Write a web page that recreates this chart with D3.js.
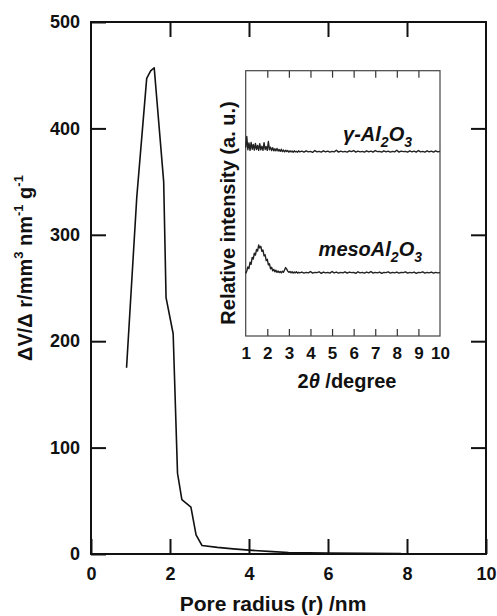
<!DOCTYPE html>
<html>
<head>
<meta charset="utf-8">
<script src="https://cdn.jsdelivr.net/npm/d3@7"></script>
<style>
  body { margin: 0; background: #fff; }
  svg { display: block; font-family: "Liberation Sans", Arial, sans-serif; }
</style>
</head>
<body>
<svg id="chart" width="497" height="616"></svg>
<script>
// ---- Main chart data: pore size distribution ----
const poreRadius = [0.9, 1.16, 1.41, 1.51, 1.60, 1.84, 1.90, 2.08, 2.19, 2.30, 2.53, 2.66, 2.81, 3.2, 3.6, 4.0, 4.6, 5.0, 6.0, 7.0, 7.85];
const dVdr = [175, 336, 447, 454, 457, 350, 241, 207, 76, 51, 44, 18, 8, 6.2, 4.8, 3.6, 2.2, 1.4, 0.9, 0.6, 0.5];
const xTicks = [0, 2, 4, 6, 8, 10];
const yTicks = [0, 100, 200, 300, 400, 500];

// ---- Inset data: low-angle XRD ----
const twoTheta = [
  1.00,1.05,1.10,1.15,1.20,1.25,1.30,1.35,1.40,1.45,1.50,1.55,1.60,1.65,1.70,1.75,1.80,1.85,1.90,1.95,
  2.00,2.05,2.10,2.15,2.20,2.25,2.30,2.35,2.40,2.45,2.50,2.55,2.60,2.65,2.70,2.75,2.80,2.85,2.90,2.95,
  3.00,3.05,3.10,3.15,3.20,3.25,3.30,3.35,3.40,3.45,3.50,
  3.6,3.7,3.8,3.9,4.0,4.1,4.2,4.3,4.4,4.5,
  4.6,4.7,4.8,4.9,5.0,5.1,5.2,5.3,5.4,5.5,
  5.6,5.7,5.8,5.9,6.0,6.1,6.2,6.3,6.4,6.5,
  6.6,6.7,6.8,6.9,7.0,7.1,7.2,7.3,7.4,7.5,
  7.6,7.7,7.8,7.9,8.0,8.1,8.2,8.3,8.4,8.5,
  8.6,8.7,8.8,8.9,9.0,9.1,9.2,9.3,9.4,9.5,
  9.6,9.7,9.8,9.9,10.0
];
const gammaIntensity = [
  71.0,75.2,70.2,72.8,70.0,73.0,70.4,72.2,70.1,72.6,70.3,71.8,70.0,72.5,70.2,71.5,70.0,72.9,70.3,71.4,
  70.0,73.3,70.2,71.2,69.9,71.0,69.8,70.6,69.8,70.7,69.7,70.3,69.6,70.4,69.5,70.1,69.4,70.0,69.5,69.9,
  69.3,69.8,69.4,69.7,69.3,69.8,69.4,69.6,69.3,69.8,69.4,
  69.7,69.3,69.8,69.4,69.6,69.2,69.9,69.4,69.6,69.3,
  69.8,69.4,69.7,69.3,69.6,69.4,70.0,69.3,69.7,69.4,
  69.6,69.3,69.8,69.5,69.9,69.3,69.7,69.4,69.6,69.3,
  69.8,69.4,69.7,69.3,69.9,69.5,69.6,69.3,69.8,69.4,
  69.7,69.3,69.6,69.4,70.0,69.3,69.7,69.5,69.6,69.3,
  69.8,69.4,69.7,69.3,69.9,69.4,69.6,69.3,69.8,69.4,
  69.7,69.3,69.8,69.4,69.6
];
const mesoIntensity = [
  23.6,24.5,26.0,25.4,27.8,27.0,29.6,29.0,31.2,30.5,32.6,32.0,34.3,33.2,33.8,31.9,32.4,30.2,30.6,28.4,
  28.9,26.8,27.2,25.3,25.9,24.6,25.1,24.2,24.8,24.0,24.5,23.9,24.3,23.8,24.4,24.0,24.9,25.8,25.2,24.4,
  24.0,24.3,23.8,24.2,23.7,24.1,23.8,24.2,23.7,24.0,23.8,
  24.1,23.7,24.0,23.8,24.3,23.7,24.0,23.9,24.2,23.6,
  24.1,23.8,24.0,23.7,24.3,23.8,24.1,23.7,24.0,23.8,
  24.2,23.7,24.1,23.9,24.0,23.6,24.2,23.8,24.0,23.7,
  24.1,23.8,24.3,23.7,24.0,23.8,24.1,23.6,24.0,23.9,
  24.2,23.7,24.0,23.8,24.1,23.7,24.0,23.9,24.2,23.7,
  24.0,23.8,24.1,23.6,24.0,23.9,24.2,23.7,24.0,23.8,
  24.1,23.7,24.0,23.8,23.9
];
const insetTicks = [1, 2, 3, 4, 5, 6, 7, 8, 9, 10];

const svg = d3.select("#chart");

// ---------- Main chart ----------
const x = d3.scaleLinear().domain([0, 10]).range([91, 486]);
const y = d3.scaleLinear().domain([0, 500]).range([554, 22]);

function styleAxis(g, fontSize) {
  g.select(".domain").remove();
  g.selectAll(".tick line").attr("stroke", "#111").attr("stroke-width", 2);
  g.selectAll(".tick text").attr("fill", "#111").attr("font-size", fontSize)
    .attr("font-weight", "bold").attr("font-family", "'Liberation Sans', Arial, sans-serif");
}

svg.append("g").attr("transform", "translate(0,554)")
  .call(d3.axisBottom(x).tickValues(xTicks).tickSize(-15).tickPadding(13).tickFormat(d3.format("d")))
  .call(g => styleAxis(g, 18));
svg.append("g").attr("transform", "translate(91,0)")
  .call(d3.axisLeft(y).tickValues(yTicks).tickSize(-15).tickPadding(11).tickFormat(d3.format("d")))
  .call(g => styleAxis(g, 18));
svg.append("g").attr("transform", "translate(0,22)")
  .call(d3.axisTop(x).tickValues(xTicks.slice(1, -1)).tickSize(-15).tickFormat(""))
  .call(g => styleAxis(g, 18));
svg.append("g").attr("transform", "translate(486,0)")
  .call(d3.axisRight(y).tickValues(yTicks.slice(1, -1)).tickSize(-15).tickFormat(""))
  .call(g => styleAxis(g, 18));

svg.append("rect")
  .attr("x", x(0)).attr("y", y(500))
  .attr("width", x(10) - x(0)).attr("height", y(0) - y(500))
  .attr("fill", "none").attr("stroke", "#111").attr("stroke-width", 2);

const mainLine = d3.line().x((d, i) => x(poreRadius[i])).y(d => y(d));
svg.append("path").datum(dVdr)
  .attr("d", mainLine)
  .attr("fill", "none").attr("stroke", "#111").attr("stroke-width", 1.6)
  .attr("stroke-linejoin", "round");

// axis titles
svg.append("text")
  .attr("x", 273).attr("y", 611)
  .attr("text-anchor", "middle").attr("font-size", 21).attr("font-weight", "bold").attr("fill", "#111")
  .text("Pore radius (r) /nm");

const yl = svg.append("text")
  .attr("transform", "translate(32,268) rotate(-90)")
  .attr("text-anchor", "middle").attr("font-size", 20).attr("font-weight", "bold").attr("fill", "#111");
yl.append("tspan").text("ΔV/Δ r/mm");
yl.append("tspan").attr("font-size", 13).attr("dy", -9).text("3");
yl.append("tspan").attr("dy", 9).text(" nm");
yl.append("tspan").attr("font-size", 13).attr("dy", -9).text("-1");
yl.append("tspan").attr("dy", 9).text(" g");
yl.append("tspan").attr("font-size", 13).attr("dy", -9).text("-1");

// ---------- Inset ----------
const x2 = d3.scaleLinear().domain([1, 10]).range([245.7, 440]);
const y2 = d3.scaleLinear().domain([0, 100]).range([336, 70.7]);

function styleInset(g) {
  g.select(".domain").remove();
  g.selectAll(".tick line").attr("stroke", "#333").attr("stroke-width", 1.2);
  g.selectAll(".tick text").attr("fill", "#111").attr("font-size", 17)
    .attr("font-weight", "bold").attr("font-family", "'Liberation Sans', Arial, sans-serif");
}

svg.append("g").attr("transform", "translate(0,336)")
  .call(d3.axisBottom(x2).tickValues(insetTicks).tickSize(-7).tickPadding(11).tickFormat(d3.format("d")))
  .call(styleInset)
  .call(g => g.selectAll(".tick line").filter(d => d === 1 || d === 10).remove());
svg.append("g").attr("transform", "translate(0,70.7)")
  .call(d3.axisTop(x2).tickValues(insetTicks.slice(1, -1)).tickSize(-7).tickFormat(""))
  .call(styleInset);

svg.append("rect")
  .attr("x", x2(1)).attr("y", y2(100))
  .attr("width", x2(10) - x2(1)).attr("height", y2(0) - y2(100))
  .attr("fill", "none").attr("stroke", "#444").attr("stroke-width", 1.2);

const insetLine = d3.line().x((d, i) => x2(twoTheta[i])).y(d => y2(d));
[gammaIntensity, mesoIntensity].forEach(series => {
  svg.append("path").datum(series)
    .attr("d", insetLine)
    .attr("fill", "none").attr("stroke", "#222").attr("stroke-width", 1.4)
    .attr("stroke-linejoin", "round");
});

// inset labels
const t1 = svg.append("text").attr("x", 412).attr("y", 141).attr("text-anchor", "end")
  .attr("font-size", 20).attr("font-weight", "bold").attr("font-style", "italic").attr("fill", "#111");
t1.append("tspan").text("γ-Al");
t1.append("tspan").attr("font-size", 14).attr("dy", 6).text("2");
t1.append("tspan").attr("dy", -6).text("O");
t1.append("tspan").attr("font-size", 14).attr("dy", 6).text("3");

const t2 = svg.append("text").attr("x", 422).attr("y", 256).attr("text-anchor", "end")
  .attr("font-size", 20).attr("font-weight", "bold").attr("font-style", "italic").attr("fill", "#111");
t2.append("tspan").text("mesoAl");
t2.append("tspan").attr("font-size", 14).attr("dy", 6).text("2");
t2.append("tspan").attr("dy", -6).text("O");
t2.append("tspan").attr("font-size", 14).attr("dy", 6).text("3");

const xl2 = svg.append("text").attr("x", 347).attr("y", 388).attr("text-anchor", "middle")
  .attr("font-size", 20).attr("font-weight", "bold").attr("fill", "#111");
xl2.append("tspan").text("2");
xl2.append("tspan").attr("font-style", "italic").text("θ");
xl2.append("tspan").text(" /degree");

svg.append("text")
  .attr("transform", "translate(235,213) rotate(-90)")
  .attr("text-anchor", "middle").attr("font-size", 20).attr("font-weight", "bold").attr("fill", "#111")
  .text("Relative intensity (a. u.)");
</script>
</body>
</html>
